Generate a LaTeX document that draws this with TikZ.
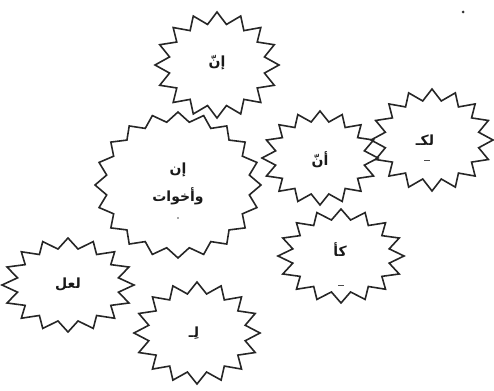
\documentclass[tikz,border=0pt]{standalone}
\usepackage{fontspec}
\newfontfamily\arabicfont[Script=Arabic]{DejaVu Sans}
\TeXXeTstate=1
\begin{document}
\begin{tikzpicture}[x=1pt,y=-1pt,
  burstline/.style={draw=black!85,line width=1.6pt,line join=miter},
  lbl/.style={font=\arabicfont\bfseries\fontsize{14}{16}\selectfont,inner sep=0pt,text=black!90},
  dashmark/.style={fill=black!70}]
\newcommand\burst[5]{%
  \pgfmathtruncatemacro\bn{2*#2-1}%
  \draw[burstline] ([shift={(90:#3 and #4)}]#1)
    \foreach \i in {1,...,\bn}{ -- ([shift={(90+\i*180/#2:{(1-(1-#5)*mod(\i,2))*#3} and {(1-(1-#5)*mod(\i,2))*#4})}]#1)} -- cycle;}
\useasboundingbox (0,0) rectangle (494,390);
\coordinate (c1) at (217,65);
\coordinate (c2) at (178,185);
\coordinate (c3) at (320,158);
\coordinate (c4) at (432,140);
\coordinate (c5) at (341,256);
\coordinate (c6) at (68,285);
\coordinate (c7) at (197,333);
\burst{c1}{16}{62}{53}{0.78}
\burst{c2}{20}{83}{73}{0.87}
\burst{c4}{16}{61}{51}{0.78}
\burst{c3}{16}{58}{47}{0.78}
\burst{c5}{16}{63}{47}{0.78}
\burst{c6}{16}{66}{47}{0.78}
\burst{c7}{16}{63}{51}{0.78}
\node[lbl] (t1) at (217,63) {\beginR إنّ\endR};
\node[lbl] (t2a) at (178,170) {\beginR إن\endR};
\node[lbl] (t2b) at (178,196) {\beginR وأخوات\endR};
\node[lbl] (t3) at (320,160) {\beginR أنّ\endR};
\node[lbl] (t4) at (425,140) {\beginR لكـ\endR};
\fill[dashmark] (424,159.5) rectangle (430,160.5);
\node[lbl] (t5) at (340,250) {\beginR كأ\endR};
\fill[dashmark] (338,284.5) rectangle (344,285.5);
\node[lbl] (t6) at (68,284) {\beginR لعل\endR};
\node[lbl] (t7) at (194,333) {\beginR لِـ\endR};
\fill[black!70] (178,218) circle (0.8);
\fill[black!80] (463,12) circle (1.5);
\end{tikzpicture}
\end{document}
